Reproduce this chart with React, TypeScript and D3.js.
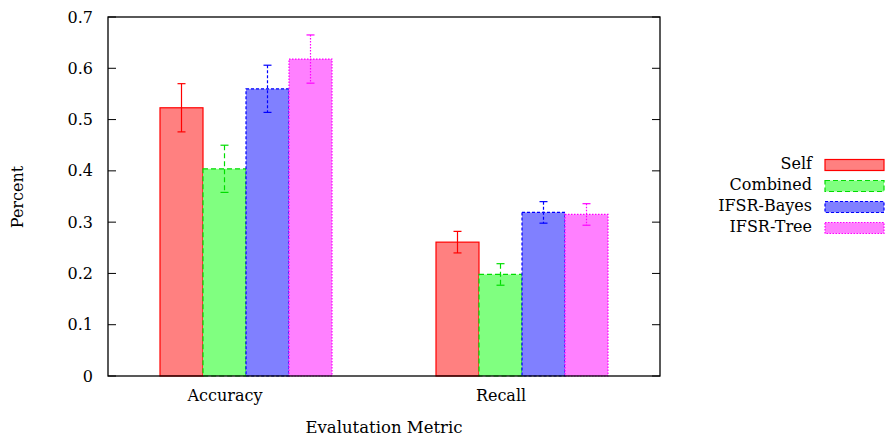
import React from "react";
import * as d3 from "d3";

const categories = ["Accuracy", "Recall"];
const seriesNames = ["Self", "Combined", "IFSR-Bayes", "IFSR-Tree"];
const selfValues = [0.523, 0.261];
const selfErr = [0.047, 0.021];
const combinedValues = [0.404, 0.198];
const combinedErr = [0.046, 0.021];
const bayesValues = [0.56, 0.319];
const bayesErr = [0.046, 0.021];
const treeValues = [0.618, 0.315];
const treeErr = [0.047, 0.021];
const yTicks = [0, 0.1, 0.2, 0.3, 0.4, 0.5, 0.6, 0.7];

const seriesValues = [selfValues, combinedValues, bayesValues, treeValues];
const seriesErrs = [selfErr, combinedErr, bayesErr, treeErr];
const strokes = ["#ff0000", "#00dd00", "#0000ff", "#ff00ff"];
const fills = ["#ff8080", "#80ff80", "#8080ff", "#ff80ff"];
const dashes = ["none", "5,3", "3,2", "1.5,1.5"];

const W = 885, H = 439;
const L = 108, R = 660, T = 17, B = 376;
const FONT = "'DejaVu Serif', serif";

export default function App() {
  const x = d3.scaleBand().domain(categories).range([L, R]);
  const inner = d3.scaleBand().domain(seriesNames).range([-86, 86]);
  const y = d3.scaleLinear().domain([0, 0.7]).range([B, T]);
  const cx = (c: string) => (x(c) as number) + x.bandwidth() / 2;

  return (
    <svg width={W} height={H} style={{ position: "absolute", left: 0, top: 0, background: "#fff" }} fontFamily={FONT}>
      {seriesNames.map((s, si) =>
        categories.map((c, ci) => {
          const x0 = cx(c) + (inner(s) as number);
          const w = inner.bandwidth();
          const v = seriesValues[si][ci];
          const e = seriesErrs[si][ci];
          const mx = x0 + w / 2;
          return (
            <g key={s + c}>
              <rect x={x0} y={y(v)} width={w} height={y(0) - y(v)} fill={fills[si]}
                stroke={strokes[si]} strokeWidth={1.2} strokeDasharray={dashes[si]} />
              <line x1={mx} x2={mx} y1={y(v + e)} y2={y(v - e)} stroke={strokes[si]} strokeWidth={1.2} strokeDasharray={dashes[si]} />
              <line x1={mx - 4} x2={mx + 4} y1={y(v + e)} y2={y(v + e)} stroke={strokes[si]} strokeWidth={1.2} />
              <line x1={mx - 4} x2={mx + 4} y1={y(v - e)} y2={y(v - e)} stroke={strokes[si]} strokeWidth={1.2} />
            </g>
          );
        })
      )}
      <rect x={L} y={T} width={R - L} height={B - T} fill="none" stroke="#000" strokeWidth={1.3} />
      {yTicks.map((t) => (
        <g key={t}>
          <line x1={L} x2={L + 8} y1={y(t)} y2={y(t)} stroke="#000" strokeWidth={1} />
          <line x1={R - 8} x2={R} y1={y(t)} y2={y(t)} stroke="#000" strokeWidth={1} />
          <text x={93} y={y(t)} dy="0.35em" textAnchor="end" fontSize={16}>{String(t)}</text>
        </g>
      ))}
      {categories.map((c) => (
        <text key={c} x={cx(c) - 21} y={401} textAnchor="middle" fontSize={16}>{c}</text>
      ))}
      <text x={(L + R) / 2} y={433} textAnchor="middle" fontSize={16.5}>Evalutation Metric</text>
      <text transform={`translate(23,197) rotate(-90)`} textAnchor="middle" fontSize={16}>Percent</text>
      {seriesNames.map((s, i) => (
        <g key={s}>
          <text x={812} y={168.5 + 21 * i} textAnchor="end" fontSize={16}>{s}</text>
          <rect x={825} y={159.5 + 21 * i} width={59} height={11} fill={fills[i]} stroke={strokes[i]}
            strokeWidth={1.2} strokeDasharray={dashes[i]} />
        </g>
      ))}
    </svg>
  );
}
